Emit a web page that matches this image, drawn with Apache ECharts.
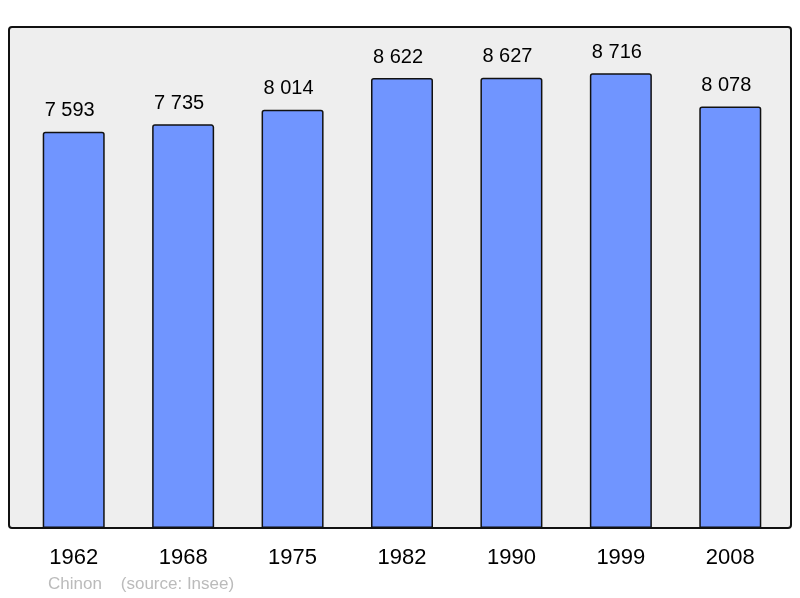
<!DOCTYPE html>
<html>
<head>
<meta charset="utf-8">
<script src="https://cdn.jsdelivr.net/npm/echarts@6/dist/echarts.min.js"></script>
<style>
  html, body { margin: 0; padding: 0; background: #fff; }
  #chart { width: 800px; height: 598px; }
</style>
</head>
<body>
<div id="chart"></div>
<script>
// années du recensement et population
const years = ['1962', '1968', '1975', '1982', '1990', '1999', '2008']
const population = [7593, 7735, 8014, 8622, 8627, 8716, 8078]
const footer = 'Chinon    (source: Insee)'

const chart = echarts.init(document.getElementById('chart'))

// format "7 593"
const fmt = v => String(v).replace(/\B(?=(\d{3})+(?!\d))/g, ' ')

const option = {
    animation: false,
    textStyle: { fontFamily: 'Liberation Sans' },
    graphic: [
        {
            type: 'rect',
            shape: { x: 9, y: 27, width: 782, height: 501, r: 3 },
            style: { fill: '#eeeeee', stroke: '#111', lineWidth: 2 },
            z: -10
        },
        {
            type: 'text',
            left: 48,
            top: 576,
            style: { text: footer, fill: '#bbbbbb', fontSize: 17, fontFamily: 'Liberation Sans' }
        }
    ],
    grid: {
        left: 19,
        width: 766,
        top: 27,
        bottom: 70
    },
    xAxis: {
        type: 'category',
        data: years,
        axisLine: { show: false },
        axisTick: { show: false },
        axisLabel: {
            color: '#000',
            fontSize: 22,
            margin: 19
        }
    },
    yAxis: {
        type: 'value',
        min: 0,
        max: 9600,
        show: false,
        splitLine: { show: false }
    },
    series: [
        {
            type: 'bar',
            data: population,
            barWidth: 62,
            itemStyle: {
                color: '#7095ff',
                borderColor: '#111',
                borderWidth: 1.5,
                borderRadius: [2, 2, 0, 0]
            },
            label: {
                show: true,
                position: 'top',
                distance: 11,
                offset: [-4, 0],
                color: '#000',
                fontSize: 20,
                formatter: p => fmt(p.value)
            }
        }
    ]
}

chart.setOption(option)
</script>
</body>
</html>
